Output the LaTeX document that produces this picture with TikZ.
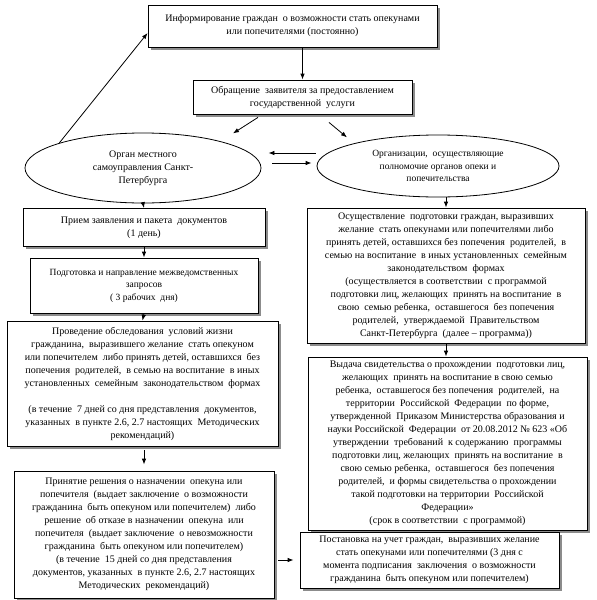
\documentclass[tikz,border=0pt]{standalone}
\usepackage{fontspec}
\setmainfont{Liberation Serif}
\usetikzlibrary{shapes.geometric,shadows,arrows.meta,calc}
\begin{document}
\begin{tikzpicture}[x=1pt,y=-1pt,
  txt/.style={font=\fontsize{10}{13}\selectfont, align=center, inner sep=0pt},
  boxnode/.style={txt, draw=black, line width=0.8pt, fill=white, rectangle,
    drop shadow={shadow xshift=2.5pt, shadow yshift=-2.5pt, fill=black!45, opacity=1}},
  ell/.style={txt, draw=black, line width=0.8pt, ellipse, fill=white},
  arr/.style={-{Latex[length=6pt,width=4.5pt]}, line width=0.8pt}]
\useasboundingbox (0,0) rectangle (597,600);
\fill[white] (0,0) rectangle (597,600);

\node[boxnode, minimum width=289pt, minimum height=42pt] (b1) at (292.5,26)
  {Информирование граждан \ о возможности стать опекунами\\или попечителями (постоянно)};
\node[boxnode, minimum width=219pt, minimum height=34pt] (b2) at (302.5,97)
  {Обращение \ заявителя за предоставлением\\государственной \ услуги};
\node[ell, minimum width=236pt, minimum height=70pt] (e1) at (143,168)
  {Орган местного\\самоуправления Санкт-\\Петербурга};
\node[ell, minimum width=242pt, minimum height=62pt, font=\fontsize{9.5}{12.5}\selectfont] (e2) at (438,166)
  {Организации, \ осуществляющие\\полномочие органов опеки и\\попечительства};

\node[boxnode, minimum width=242pt, minimum height=38pt] (b3) at (144,227.5)
  {Прием заявления и пакета \ документов\\(1 день)};
\node[boxnode, minimum width=228pt, minimum height=55pt, font=\fontsize{9.5}{12.5}\selectfont] (b4) at (144,285.5)
  {Подготовка и направление межведомственных\\запросов\\( 3 рабочих \ дня)};
\node[boxnode, minimum width=271pt, minimum height=125pt] (b5) at (142.5,383.5)
  {Проведение обследования \ условий жизни\\гражданина, \ выразившего желание \ стать опекуном\\или попечителем \ либо принять детей, оставшихся \ без\\попечения \ родителей, \ в семью на воспитание \ в иных\\установленных \ семейным \ законодательством \ формах\\[13pt](в течение \ 7 дней со дня представления \ документов,\\указанных \ в пункте 2.6, 2.7 настоящих \ Методических\\рекомендаций)};
\node[boxnode, minimum width=260pt, minimum height=127pt] (b6) at (144,534.5)
  {Принятие решения о назначении \ опекуна или\\попечителя \ (выдает заключение \ о возможности\\гражданина \ быть опекуном или попечителем) \ либо\\решение \ об отказе в назначении \ опекуна \ или\\попечителя \ (выдает заключение \ о невозможности\\гражданина \ быть опекуном или попечителем)\\(в течение \ 15 дней со дня представления\\документов, указанных \ в пункте 2.6, 2.7 настоящих\\Методических \ рекомендаций)};

\node[boxnode, minimum width=278pt, minimum height=135pt] (b7) at (446,275.5)
  {Осуществление \ подготовки граждан, выразивших\\желание \ стать опекунами или попечителями либо\\принять детей, оставшихся без попечения \ родителей, \ в\\семью на воспитание \ в иных установленных \ семейным\\законодательством \ формах\\(осуществляется в соответствии \ с программой\\подготовки лиц, желающих \ принять на воспитание \ в\\свою \ семью ребенка, \ оставшегося \ без попечения\\родителей, \ утверждаемой \ Правительством\\Санкт-Петербурга \ (далее – программа))};
\node[boxnode, minimum width=279pt, minimum height=173pt] (b8) at (447.5,443.5)
  {Выдача свидетельства о прохождении \ подготовки лиц,\\желающих \ принять на воспитание в свою семью\\ребенка, \ оставшегося без попечения \ родителей, \ на\\территории \ Российской \ Федерации \ по форме,\\утвержденной \ Приказом Министерства образования и\\науки Российской \ Федерации \ от 20.08.2012 № 623 «Об\\утверждении \ требований \ к содержанию \ программы\\подготовки лиц, желающих \ принять на воспитание \ в\\свою семью ребенка, \ оставшегося \ без попечения\\родителей, \ и формы свидетельства о прохождении\\такой подготовки на территории \ Российской\\Федерации»\\(срок в соответствии \ с программой)};
\node[boxnode, minimum width=259pt, minimum height=56pt] (b9) at (429.5,560)
  {Постановка на учет граждан, \ выразивших желание\\стать опекунами или попечителями (3 дня с\\момента подписания \ заключения \ о возможности\\гражданина \ быть опекуном или попечителем)};

% connectors
\draw[arr] (b1.south -| b2.north) -- (b2.north);
\draw[arr] ($(b2.south)+(-44.5,3)$) -- ++(-25,16);
\draw[arr] ($(b2.south)+(26.5,8)$) -- ++(18,15);
\draw[arr] (e1.north west) -- ($(b1.west)+(0,7)$);
\draw[arr] ($(e2.west)+(-1,-13)$) coordinate (hA) -- ($(e1.east)+(7,-15)$) coordinate (hB);
\draw[arr] ($(e1.east)+(11,-5)$) coordinate (hC) -- ($(e2.west)+(-5,-3)$) coordinate (hD);
\draw[arr] (e1.south) -- (b3.north);
\draw[arr] (b3.south) -- (b4.north);
\draw[arr] (b4.south) -- (b5.north);
\draw[arr, shorten <=4pt, shorten >=6pt] (b5.south -| b6.north) -- (b6.north);
\draw[arr] (e2.south -| b7.north) -- (b7.north);
\draw[arr] (b7.south) -- (b7.south |- b8.north);
\draw[arr, shorten <=4pt, shorten >=6pt] (b6.east |- b9.west) -- (b9.west);
\end{tikzpicture}
\end{document}
